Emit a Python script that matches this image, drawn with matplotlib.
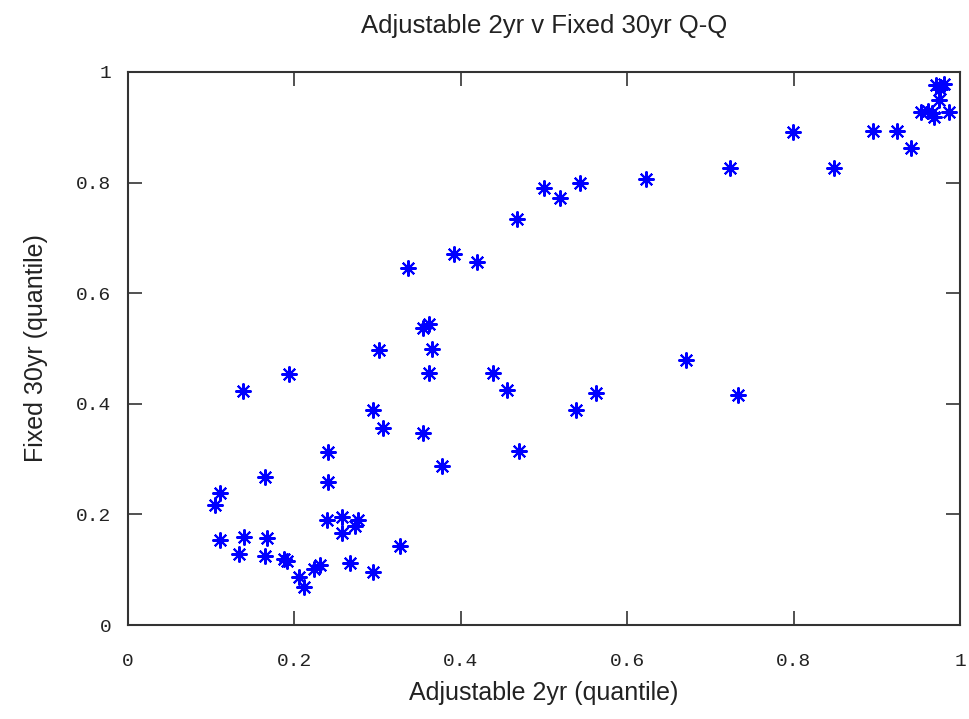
import matplotlib
matplotlib.use("Agg")
import matplotlib.pyplot as plt

adjustable_2yr = [
    0.105, 0.111, 0.110, 0.139, 0.134, 0.165, 0.167, 0.165, 0.187, 0.191,
    0.2055, 0.211, 0.223, 0.231, 0.240, 0.239, 0.257, 0.257, 0.276, 0.273,
    0.267, 0.295, 0.327, 0.240, 0.138, 0.193, 0.362, 0.355, 0.365, 0.302,
    0.362, 0.439, 0.456, 0.295, 0.307, 0.355, 0.470, 0.377, 0.538, 0.5625,
    0.671, 0.7335, 0.336, 0.392, 0.420, 0.468, 0.500, 0.519, 0.543, 0.623,
    0.724, 0.799, 0.849, 0.895, 0.924, 0.941,
    0.971, 0.981, 0.976, 0.975, 0.953, 0.962, 0.969, 0.966, 0.987,
]
fixed_30yr = [
    0.217, 0.238, 0.154, 0.160, 0.128, 0.268, 0.157, 0.124, 0.119, 0.115,
    0.087, 0.069, 0.102, 0.108, 0.258, 0.190, 0.196, 0.167, 0.190, 0.179,
    0.113, 0.095, 0.143, 0.312, 0.424, 0.454, 0.545, 0.537, 0.500, 0.497,
    0.455, 0.455, 0.425, 0.389, 0.356, 0.348, 0.315, 0.288, 0.388, 0.420,
    0.480, 0.416, 0.645, 0.670, 0.657, 0.735, 0.790, 0.772, 0.800, 0.806,
    0.826, 0.891, 0.826, 0.894, 0.894, 0.862,
    0.976, 0.978, 0.969, 0.949, 0.928, 0.929, 0.919, 0.926, 0.928,
]
x_ticks = [0, 0.2, 0.4, 0.6, 0.8, 1]
x_tick_labels = ["0", "0.2", "0.4", "0.6", "0.8", "1"]
y_ticks = [0, 0.2, 0.4, 0.6, 0.8, 1]
y_tick_labels = ["0", "0.2", "0.4", "0.6", "0.8", "1"]

fig = plt.figure(figsize=(9.69, 7.19), dpi=100)
ax = fig.add_axes([128/969, 94/719, 832/969, 553/719])

ax.plot(adjustable_2yr, fixed_30yr, linestyle="none", marker=(8, 2, 0),
        markersize=11.5, markeredgewidth=1.5, color="#0000ff", markeredgecolor="#0000ff")

ax.set_xlim(0, 1)
ax.set_ylim(0, 1)
ax.set_xticks(x_ticks)
ax.set_xticklabels(x_tick_labels)
ax.set_yticks(y_ticks)
ax.set_yticklabels(y_tick_labels)

mono = "Liberation Mono"
for lab in ax.get_xticklabels() + ax.get_yticklabels():
    lab.set_fontfamily(mono)
    lab.set_fontsize(14)
    lab.set_color("#222222")

ax.tick_params(axis="both", direction="in", length=10, width=1.2, color="#333333",
               top=True, right=True)
ax.tick_params(axis="x", pad=20)
ax.tick_params(axis="y", pad=12)
for s in ax.spines.values():
    s.set_linewidth(1.5)
    s.set_color("#333333")

ax.set_title("Adjustable 2yr v Fixed 30yr Q-Q", fontfamily="Liberation Sans",
             fontsize=18.5, color="#222222", pad=28)
ax.set_xlabel("Adjustable 2yr (quantile)", fontfamily="Liberation Sans",
              fontsize=18, color="#222222", labelpad=8)
ax.set_ylabel("Fixed 30yr (quantile)", fontfamily="Liberation Sans",
              fontsize=18, color="#222222", labelpad=20)

fig.savefig("out.png", dpi=100)
